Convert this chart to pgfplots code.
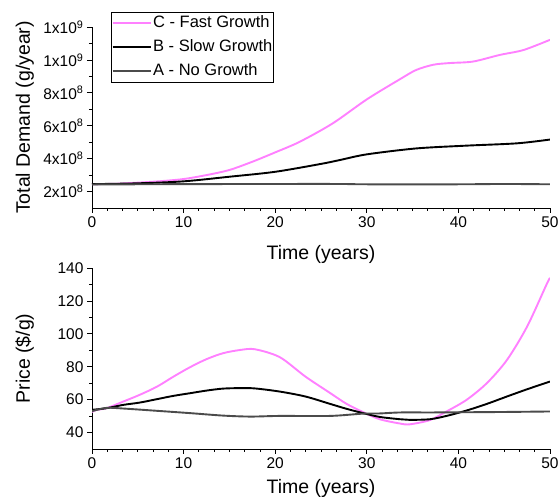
\documentclass[border=0pt]{standalone}
\usepackage{pgfplots}
\pgfplotsset{compat=1.18}
\usepackage{fontspec}
\setmainfont{Liberation Sans}
\definecolor{cpink}{RGB}{255,128,255}
\definecolor{cgray}{RGB}{75,75,75}
\pgfplotsset{
  common/.style={
    scale only axis, width=458pt, height=181pt,
    xmin=0, xmax=50, xtick={0,10,20,30,40,50}, minor x tick num=5,
    axis x line*=bottom, axis y line*=left, axis line style={-, line width=0.9pt},
    tick align=outside, major tick length=5pt, minor tick length=3pt,
    tick style={black, line width=0.8pt},
    /pgf/number format/assume math mode=true,
    tick label style={font=\fontsize{15.5}{17}\selectfont},
    label style={font=\fontsize{19.5}{21}\selectfont},
    ylabel style={at={(axis description cs:-0.1354,0.5)}, anchor=base},
    scaled y ticks=false,
  },
}
\begin{document}
\begin{tikzpicture}
\useasboundingbox (0pt,0pt) rectangle (560pt,497pt);
% top axis
\begin{axis}[common, at={(92pt,289pt)}, anchor=south west,
  ymin=1e8, ymax=1.2e9,
  ytick={2e8,4e8,6e8,8e8,1e9,1.2e9}, minor y tick num=1,
  yticklabels={2x10\textsuperscript{8},4x10\textsuperscript{8},6x10\textsuperscript{8},8x10\textsuperscript{8},1x10\textsuperscript{9},1x10\textsuperscript{9}},
  xlabel={Time (years)}, ylabel={Total Demand (g/year)},
  xlabel style={at={(axis description cs:0.5,-0.2873)}, anchor=base},
  legend cell align=left,
  legend image code/.code={\draw[#1, line width=2.2pt] (-2pt,0pt) -- (36pt,0pt);},
  legend style={at={(axis description cs:0.0415,1.083)}, anchor=north west,
    draw=black, line width=0.8pt, inner xsep=0pt, inner ysep=2pt, row sep=6pt,
    font=\fontsize{16.5}{18}\selectfont,
    nodes={inner sep=1.5pt, text height=12pt, text depth=3pt}},
]
\addplot[cpink, line width=1.9pt, smooth] coordinates {
(0,2.45e8) (2.5,2.47e8) (5,2.54e8) (7.5,2.63e8) (10,2.76e8) (12.5,3.0e8) (15,3.31e8)
(17.5,3.81e8) (20,4.38e8) (22.7,5.03e8) (26.3,6.15e8) (30,7.6e8) (33.6,8.82e8)
(35.4,9.39e8) (37.3,9.71e8) (39.1,9.81e8) (41.6,9.9e8) (44.5,1.03e9) (47.1,1.06e9)
(50,1.122e9)};
\addlegendentry{C - Fast Growth}
\addplot[black, line width=1.9pt, smooth] coordinates {
(0,2.45e8) (5,2.5e8) (10,2.62e8) (15,2.9e8) (20,3.2e8) (25,3.68e8) (27.1,3.92e8)
(30,4.26e8) (35.4,4.62e8) (40.9,4.79e8) (46.4,4.93e8) (50,5.16e8)};
\addlegendentry{B - Slow Growth}
\addplot[cgray, line width=1.9pt, smooth] coordinates {
(0,2.43e8) (10,2.45e8) (20,2.46e8) (27,2.46e8) (30,2.44e8) (40,2.44e8) (45,2.46e8) (50,2.44e8)};
\addlegendentry{A - No Growth}
\end{axis}
% bottom axis
\begin{axis}[common, at={(92pt,48pt)}, anchor=south west,
  ymin=30, ymax=140, ytick={40,60,...,140}, minor y tick num=1,
  xlabel={Time (years)}, ylabel={Price (\$/g)},
  xlabel style={at={(axis description cs:0.5,-0.2486)}, anchor=base},
]
\addplot[cpink, line width=1.9pt, smooth] coordinates {
(0,52.5) (0.5,53.8) (1.6,54.8) (3.4,58.8) (5.2,62.9) (7.1,67.9) (8.9,74) (10.7,79.7)
(12.5,84.6) (14.3,88.2) (16.2,90.2) (17.8,90.6) (20.5,85.8) (23.3,74) (26,64)
(27.8,57.4) (29.6,52.4) (31.4,48.1) (33.6,45.5) (34.7,45.0) (36.9,47.6) (38.7,52.8)
(40.9,59.9) (43.1,70) (45.3,84.1) (47.5,104.4) (49.6,129.7) (50,134)};
\addplot[black, line width=1.9pt, smooth] coordinates {
(0,53.8) (1.6,54.8) (3.4,56.8) (5.2,58.2) (7.1,60.3) (8.9,62.3) (10.7,63.9) (12.5,65.5)
(14.3,66.7) (16.2,67) (17.8,66.8) (20.5,64.9) (23.3,61.9) (26,57.4) (27.8,54.4)
(29.6,51.8) (31.4,49.5) (33.6,48.1) (34.7,47.7) (36.9,48.1) (38.7,50.1) (40.9,53.4)
(43.1,57.4) (45.3,61.9) (47.5,66.3) (50,71)};
\addplot[cgray, line width=1.9pt, smooth] coordinates {
(0,53) (1.6,55) (3.4,54.6) (7.1,53.2) (10.7,51.8) (14.3,50.3) (17.3,49.7) (20.5,50.1)
(26,50.1) (29.6,51.5) (31.4,51.6) (33.6,52.2) (36.9,52.2) (40,52.3) (45,52.5) (50,52.8)};
\end{axis}
\end{tikzpicture}
\end{document}
